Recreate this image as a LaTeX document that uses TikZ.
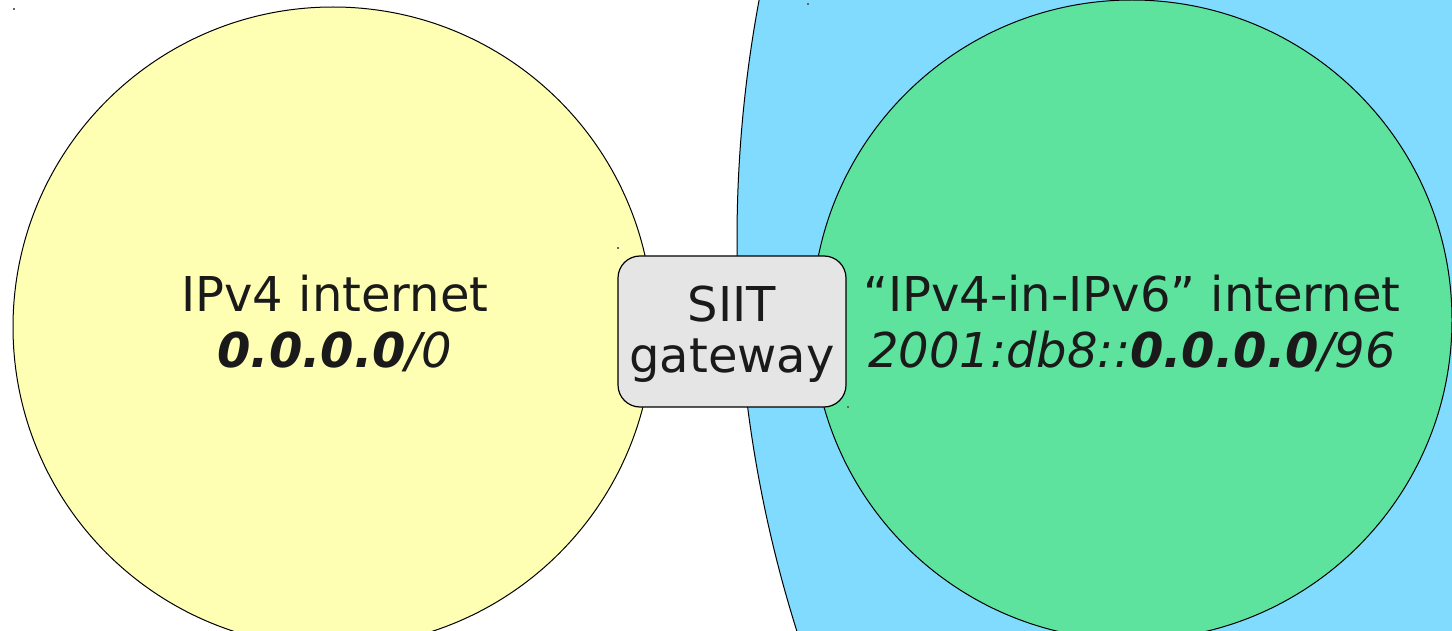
\documentclass[tikz,border=0pt]{standalone}
\usepackage{fontspec}
\setmainfont{DejaVu Sans}
\definecolor{vfouryellow}{RGB}{255,255,180}
\definecolor{vsixblue}{RGB}{128,219,255}
\definecolor{mapgreen}{RGB}{94,227,158}
\definecolor{gatewaygray}{RGB}{229,229,229}
\definecolor{inkgray}{RGB}{26,26,26}
\begin{document}
\begin{tikzpicture}[x=1pt,y=-1pt,
  region/.style={draw=black,line width=1pt},
  gatebox/.style={draw=black,line width=1.2pt,fill=gatewaygray,rounded corners=22pt,
    minimum width=228pt,minimum height=151pt,inner sep=0pt},
  caption/.style={text=inkgray,font=\fontsize{48}{56}\selectfont,align=center,inner sep=0pt},
  speck/.style={fill=black!60,minimum size=1.5pt,inner sep=0pt,shape=rectangle}]
\useasboundingbox (0,0) rectangle (1452,631);
\begin{scope}
  \clip (0,0) rectangle (1452,631);
  % IPv6 internet (large area on the right)
  \draw[region,fill=vsixblue] (2037,240) circle[radius=1300pt];
  % IPv4-in-IPv6 address space
  \draw[region,fill=mapgreen] (1132,320) circle[radius=320pt];
  % IPv4 internet
  \draw[region,fill=vfouryellow] (333,327) circle[radius=320pt];
\end{scope}
% small corner markers
\node[speck] (s1) at (14,9) {};
\node[speck] (s2) at (808,4) {};
\node[speck] (s3) at (618,248) {};
\node[speck] (s4) at (848,407) {};
% gateway
\node[gatebox] (gw) at (732,331.5) {};
\node[caption,font=\fontsize{48}{51}\selectfont] (gwtext) at (732,334) {SIIT\\gateway};
% captions
\node[caption] (vfour) at (335,323) {IPv4 internet\\\textbf{\textit{0.0.0.0}}\textit{/0}};
\node[caption] (vsix) at (1132,323) {“IPv4-in-IPv6” internet\\\textit{2001:db8::}\textbf{\textit{0.0.0.0}}\textit{/96}};
\end{tikzpicture}
\end{document}
